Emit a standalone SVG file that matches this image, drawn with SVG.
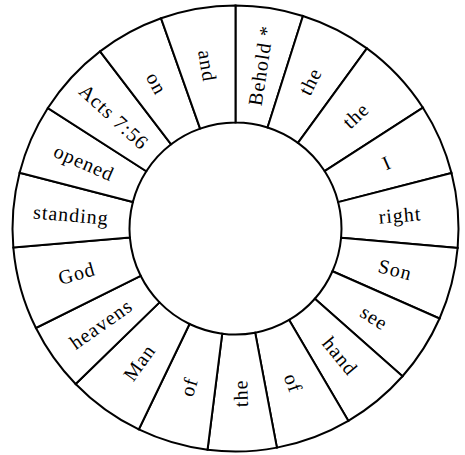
<svg xmlns="http://www.w3.org/2000/svg" width="465" height="455" viewBox="0 0 465 455">
<style>
.seg{fill:#fff;stroke:#000;stroke-width:2;stroke-linejoin:miter}
.lbl{font-family:"Liberation Serif","Times New Roman",serif;font-size:20px;letter-spacing:1px;fill:#000;text-anchor:middle}
</style>
<rect width="465" height="455" fill="#fff"/>
<g id="ring">
<g id="n1"><path class="seg" d="M235.5,122.5 L235.5,5.5 A223,223 0 0 1 302.94,15.94 L267.55,127.46 A106,106 0 0 0 235.5,122.5Z"/><text class="lbl" transform="translate(260.74,65.45) rotate(-81.2)" dy="0.35em">Behold *</text></g>
<g id="n2"><path class="seg" d="M267.55,127.46 L302.94,15.94 A223,223 0 0 1 366.89,48.32 L297.96,142.85 A106,106 0 0 0 267.55,127.46Z"/><text class="lbl" transform="translate(310.03,81.29) rotate(-63.15)" dy="0.35em">the</text></g>
<g id="n3"><path class="seg" d="M297.96,142.85 L366.89,48.32 A223,223 0 0 1 422.95,107.70 L324.60,171.08 A106,106 0 0 0 297.96,142.85Z"/><text class="lbl" transform="translate(355.54,115.28) rotate(-43.35)" dy="0.35em">the</text></g>
<g id="n4"><path class="seg" d="M324.60,171.08 L422.95,107.70 A223,223 0 0 1 451.50,173.04 L338.17,202.14 A106,106 0 0 0 324.60,171.08Z"/><text class="lbl" transform="translate(386.71,162.45) rotate(-23.6)" dy="0.35em">I</text></g>
<g id="n5"><path class="seg" d="M338.17,202.14 L451.50,173.04 A223,223 0 0 1 457.65,247.95 L341.10,237.74 A106,106 0 0 0 338.17,202.14Z"/><text class="lbl" transform="translate(399.94,214.98) rotate(-4.7)" dy="0.35em">right</text></g>
<g id="n6"><path class="seg" d="M341.10,237.74 L457.65,247.95 A223,223 0 0 1 439.55,318.48 L332.49,271.27 A106,106 0 0 0 341.10,237.74Z"/><text class="lbl" transform="translate(395.32,269.54) rotate(14.4)" dy="0.35em">Son</text></g>
<g id="n7"><path class="seg" d="M332.49,271.27 L439.55,318.48 A223,223 0 0 1 402.53,376.26 L314.89,298.74 A106,106 0 0 0 332.49,271.27Z"/><text class="lbl" transform="translate(374.45,317.53) rotate(32.65)" dy="0.35em">see</text></g>
<g id="n8"><path class="seg" d="M314.89,298.74 L402.53,376.26 A223,223 0 0 1 348.34,420.84 L289.14,319.93 A106,106 0 0 0 314.89,298.74Z"/><text class="lbl" transform="translate(340.32,355.93) rotate(50.55)" dy="0.35em">hand</text></g>
<g id="n9"><path class="seg" d="M289.14,319.93 L348.34,420.84 A223,223 0 0 1 276.91,447.62 L255.18,332.66 A106,106 0 0 0 289.14,319.93Z"/><text class="lbl" transform="translate(293.42,383.01) rotate(69.45)" dy="0.35em">of</text></g>
<g id="n10"><path class="seg" d="M255.18,332.66 L276.91,447.62 A223,223 0 0 1 207.56,449.74 L222.22,333.66 A106,106 0 0 0 255.18,332.66Z"/><text class="lbl" transform="translate(240.53,393.42) rotate(-91.75)" dy="0.35em">the</text></g>
<g id="n11"><path class="seg" d="M222.22,333.66 L207.56,449.74 A223,223 0 0 1 138.78,429.45 L189.53,324.02 A106,106 0 0 0 222.22,333.66Z"/><text class="lbl" transform="translate(188.77,386.75) rotate(-73.55)" dy="0.35em">of</text></g>
<g id="n12"><path class="seg" d="M189.53,324.02 L138.78,429.45 A223,223 0 0 1 75.63,383.98 L159.51,302.40 A106,106 0 0 0 189.53,324.02Z"/><text class="lbl" transform="translate(139.11,362.41) rotate(-54.25)" dy="0.35em">Man</text></g>
<g id="n13"><path class="seg" d="M159.51,302.40 L75.63,383.98 A223,223 0 0 1 35.94,328.00 L140.64,275.80 A106,106 0 0 0 159.51,302.40Z"/><text class="lbl" transform="translate(100.91,323.95) rotate(-35.35)" dy="0.35em">heavens</text></g>
<g id="n14"><path class="seg" d="M140.64,275.80 L35.94,328.00 A223,223 0 0 1 13.33,247.54 L129.89,237.55 A106,106 0 0 0 140.64,275.80Z"/><text class="lbl" transform="translate(76.65,273.15) rotate(-15.7)" dy="0.35em">God</text></g>
<g id="n15"><path class="seg" d="M129.89,237.55 L13.33,247.54 A223,223 0 0 1 19.61,172.66 L132.88,201.96 A106,106 0 0 0 129.89,237.55Z"/><text class="lbl" transform="translate(71.08,214.69) rotate(4.8)" dy="0.35em">standing</text></g>
<g id="n16"><path class="seg" d="M132.88,201.96 L19.61,172.66 A223,223 0 0 1 47.85,108.04 L146.30,171.24 A106,106 0 0 0 132.88,201.96Z"/><text class="lbl" transform="translate(84.29,162.45) rotate(23.6)" dy="0.35em">opened</text></g>
<g id="n17"><path class="seg" d="M146.30,171.24 L47.85,108.04 A223,223 0 0 1 100.05,51.35 L171.12,144.29 A106,106 0 0 0 146.30,171.24Z"/><text class="lbl" transform="translate(114.16,116.70) rotate(42.65)" dy="0.35em">Acts 7:56</text></g>
<g id="n18"><path class="seg" d="M171.12,144.29 L100.05,51.35 A223,223 0 0 1 161.06,18.30 L200.12,128.58 A106,106 0 0 0 171.12,144.29Z"/><text class="lbl" transform="translate(156.88,83.43) rotate(61.55)" dy="0.35em">on</text></g>
<g id="n19"><path class="seg" d="M200.12,128.58 L161.06,18.30 A223,223 0 0 1 235.5,5.5 L235.5,122.5 A106,106 0 0 0 200.12,128.58Z"/><text class="lbl" transform="translate(207.55,65.88) rotate(80.25)" dy="0.35em">and</text></g>
</g>
<g id="connectors"/>
</svg>
